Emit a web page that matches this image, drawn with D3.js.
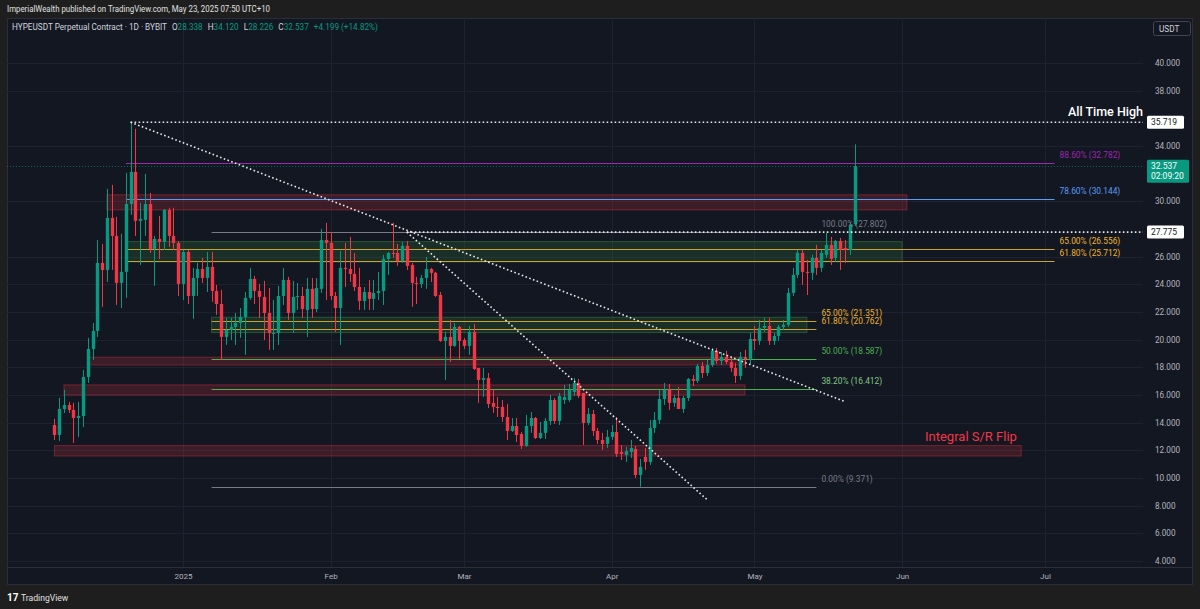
<!DOCTYPE html>
<html>
<head>
<meta charset="utf-8">
<script src="https://cdn.jsdelivr.net/npm/d3@7"></script>
<style>
  body { margin: 0; background: #1e1e1e; }
  svg { display: block; font-family: Roboto, "Noto Sans", sans-serif; }
</style>
</head>
<body>
<div class="chart"></div>
<script>
// daily candles, HYPEUSDT perp, first bar 2024-12-05
var firstDay = new Date(Date.UTC(2024, 11, 5));
var opens = [13.83,13.11,14.99,15.28,14.92,14.34,14.48,17.30,19.33,20.63,
  25.55,25.04,28.80,27.50,24.10,24.90,29.81,32.13,28.59,28.66,
  29.81,26.56,27.28,27.07,29.38,27.50,26.99,24.03,26.34,23.16,
  24.46,25.11,24.46,25.26,23.52,22.58,20.20,20.70,20.92,21.21,
  21.64,23.02,24.39,23.52,23.09,21.93,20.41,20.49,23.16,24.32,
  21.93,23.09,23.16,22.15,23.67,22.22,23.67,27.21,26.99,23.16,
  22.29,25.19,25.11,24.75,23.81,22.80,23.45,22.95,23.38,23.52,
  25.84,26.27,26.27,25.69,26.78,25.40,24.10,24.03,24.46,25.11,
  24.83,23.23,19.91,20.20,19.55,20.92,19.98,19.55,20.56,17.96,
  17.09,17.23,15.43,15.14,15.14,14.41,13.40,13.76,13.18,12.32,
  13.76,14.34,12.89,13.26,14.12,15.64,14.12,15.64,15.64,16.22,
  16.87,16.15,13.98,14.63,13.40,12.75,12.46,12.97,13.33,11.88,
  11.66,11.88,12.10,10.22,11.52,11.16,13.62,14.20,15.71,16.37,
  15.43,15.79,14.99,15.79,17.16,17.02,18.10,17.59,18.17,19.19,
  18.46,18.75,18.39,17.96,17.38,18.75,18.61,20.05,19.91,20.85,
  20.99,19.91,20.27,20.92,21.07,23.38,24.68,26.27,24.90,24.83,
  25.91,25.19,26.13,26.85,25.91,27.14,26.63,26.49,28.338];
var highs = [14.27,15.79,16.37,15.50,15.43,15.50,17.81,20.13,21.21,27.21,
  26.92,30.90,31.19,28.87,27.65,32.06,35.72,35.24,29.89,31.98,
  30.61,27.50,28.95,29.45,29.53,29.53,27.14,26.49,26.49,25.19,
  25.55,25.91,26.34,26.34,23.96,23.60,21.57,21.57,21.93,22.29,
  23.45,25.19,24.61,24.03,24.25,23.74,22.87,23.89,25.19,24.54,
  24.25,24.10,23.81,24.46,24.46,24.46,28.01,28.44,27.79,23.45,
  26.42,26.99,27.43,26.27,25.19,23.81,24.32,24.32,24.90,26.13,
  26.34,28.44,26.92,27.07,27.14,25.55,24.54,24.68,25.98,25.19,
  24.90,23.45,20.56,21.43,21.21,20.99,20.13,20.99,21.14,17.96,
  17.96,17.59,16.37,15.86,15.64,15.35,14.34,14.34,13.33,14.56,
  14.77,14.41,14.05,14.34,16.00,15.79,16.15,16.73,16.80,17.23,
  17.16,16.15,15.06,14.92,13.62,13.26,13.47,13.83,14.41,12.39,
  12.24,12.75,12.32,11.38,12.17,14.20,14.77,16.37,16.87,16.80,
  16.00,16.58,15.93,17.23,17.45,18.25,18.39,18.53,19.40,19.40,
  19.11,19.19,18.68,18.32,19.11,19.26,20.49,20.99,21.43,21.57,
  21.57,20.49,21.07,21.43,23.74,25.19,26.49,26.49,25.77,26.13,
  26.85,26.49,27.72,27.43,27.21,27.36,27.21,28.51,34.12];
var lows = [12.75,12.68,14.70,14.70,12.53,12.97,13.69,16.87,18.53,20.20,
  22.37,24.17,25.04,22.51,22.29,23.02,29.02,27.50,25.40,27.50,
  26.27,23.89,25.84,26.49,26.71,26.49,23.16,22.87,22.58,21.50,
  23.16,24.10,23.45,22.73,21.79,18.53,19.62,19.98,19.62,20.13,
  18.90,22.87,22.58,21.57,19.98,19.26,19.26,19.62,22.51,21.43,
  20.49,22.15,21.57,20.20,21.57,22.00,23.38,22.87,22.87,20.56,
  19.62,23.81,24.17,23.52,22.15,22.15,22.15,22.15,22.87,22.51,
  24.68,25.91,25.33,25.55,25.04,22.37,22.58,23.74,23.67,24.17,
  23.09,19.84,17.09,18.39,19.47,18.61,19.33,18.90,17.81,15.43,
  15.86,15.06,14.70,14.41,14.05,12.75,13.33,12.60,12.10,12.24,
  13.26,12.82,12.82,12.82,13.83,13.91,13.83,15.35,15.50,15.93,
  15.79,12.39,13.83,13.04,12.46,12.03,12.17,12.75,11.52,11.30,
  11.16,11.45,10.00,9.37,10.58,10.94,13.26,13.91,15.28,14.92,
  15.14,14.99,14.70,15.57,16.65,16.87,17.23,17.38,18.03,18.25,
  18.17,18.25,17.67,16.87,17.09,17.96,18.25,19.26,19.62,20.56,
  19.62,19.62,19.91,20.70,20.92,23.16,24.46,23.96,23.23,24.32,
  24.68,24.90,25.91,25.40,25.62,25.04,25.55,26.13,28.226];
var closes = [13.11,14.99,15.28,14.92,14.34,14.48,17.30,19.33,20.63,25.55,
  25.04,28.80,27.50,24.10,24.90,29.81,32.13,28.59,28.73,29.81,
  26.56,27.28,27.07,29.38,27.50,26.99,24.03,26.34,23.16,24.46,
  25.11,24.46,25.26,23.52,22.58,20.20,20.70,20.92,21.21,21.64,
  23.02,24.39,23.52,23.09,21.93,20.49,20.49,23.16,24.32,21.93,
  23.09,23.16,22.22,23.67,22.22,23.74,27.21,26.99,23.16,22.29,
  25.19,25.11,24.75,23.81,22.80,23.45,22.95,23.38,23.52,25.84,
  26.27,26.20,25.69,26.78,25.33,24.10,24.03,24.46,25.11,24.83,
  23.16,19.91,20.20,19.55,20.92,19.91,19.55,20.56,17.88,17.09,
  17.23,15.35,15.14,15.06,14.41,13.40,13.76,13.11,12.32,13.76,
  14.34,12.89,13.26,14.12,15.64,14.12,15.93,15.86,16.37,16.87,
  15.93,13.98,14.63,13.40,12.75,12.46,12.97,13.33,11.74,11.74,
  11.95,12.17,10.22,10.80,11.16,13.62,14.20,15.71,16.37,15.43,
  15.79,14.99,15.79,17.16,17.02,18.10,17.59,18.17,19.19,18.46,
  18.75,18.39,17.96,17.38,18.75,18.61,20.05,19.91,20.85,20.99,
  19.91,20.27,20.92,21.07,23.38,24.68,26.27,24.90,24.83,25.91,
  25.19,26.27,26.85,25.84,27.14,26.49,26.49,28.30,32.537];

var priceTicks = [4,6,8,10,12,14,16,18,20,22,24,26,30,34,38,40];
var monthTicks = ['2025-01-01','2025-02-01','2025-03-01','2025-04-01','2025-05-01','2025-06-01','2025-07-01'];
var monthLabels = ['2025','Feb','Mar','Apr','May','Jun','Jul'];

// fib 1 (ATH swing) and fib 2 (Apr low -> 27.802)
var fib1Levels = ['88.60%','78.60%','65.00%','61.80%'];
var fib1Values = [32.782, 30.144, 26.556, 25.712];
var fib1Colors = ['#9c27b0','#5b9cf6','#c9a227','#c9a227'];
var fib1Span = ['2024-12-20','2025-07-03'];
var fib2Levels = ['100.00%','65.00%','61.80%','50.00%','38.20%','0.00%'];
var fib2Values = [27.802, 21.351, 20.762, 18.587, 16.412, 9.371];
var fib2Colors = ['#787b86','#c9a227','#c9a227','#4caf50','#4caf50','#787b86'];
var fib2Span = ['2025-01-07','2025-05-14'];

// supply / demand zones: [from, to, top, bottom]
var redZones = [
  ['2024-12-16','2025-06-02',30.47,29.38],
  ['2024-12-12','2025-04-29',18.73,18.17],
  ['2024-12-07','2025-04-29',16.73,16.00],
  ['2024-12-05','2025-06-26',12.34,11.59]
];
var greenZones = [
  ['2024-12-20','2025-06-01',27.09,25.62],
  ['2025-01-07','2025-05-12',21.62,20.51]
];
// trend lines [from date, from price, to date, to price]
var trendLines = [
  ['2024-12-21',35.719,'2025-05-20',15.52],
  ['2025-02-17',27.775,'2025-04-21',8.45]
];
var athPrice = 35.719, athFrom = '2024-12-21';
var levelPrice = 27.775, levelFrom = '2025-02-17';
var lastPrice = 32.537;

var W = 1200, H = 609;
var plot = { left: 7, right: 1143, top: 18, bottom: 567 };
var up = '#089981', down = '#f23645';

var parse = function (s) { return new Date(s + 'T00:00:00Z'); };

var candles = closes.map(function (c, i) {
  return { date: d3.utcDay.offset(firstDay, i), o: opens[i], h: highs[i], l: lows[i], c: c };
});

var svg = d3.select('.chart').append('svg')
  .attr('width', W).attr('height', H);

svg.append('rect').attr('width', W).attr('height', H).attr('fill', '#1e1e1e');

svg.append('text')
  .attr('x', 7).attr('y', 12)
  .attr('fill', '#e0e0e0').attr('font-size', 8.6)
  .attr('textLength', 263).attr('lengthAdjust', 'spacingAndGlyphs')
  .text('ImperialWealth published on TradingView.com, May 23, 2025 07:50 UTC+10');

svg.append('rect')
  .attr('x', 7.5).attr('y', 18.5).attr('width', 1185).attr('height', 566)
  .attr('fill', '#131722').attr('stroke', '#2a2e39');

var x = d3.scaleUtc()
  .domain([parse('2025-01-01'), parse('2025-07-01')])
  .range([183, 1045]);
var y = d3.scaleLinear()
  .domain([4, 40])
  .range([561, 63]);

svg.append('clipPath').attr('id', 'clip')
  .append('rect')
  .attr('x', plot.left).attr('y', plot.top)
  .attr('width', plot.right - plot.left).attr('height', plot.bottom - plot.top);

var g = svg.append('g').attr('clip-path', 'url(#clip)');

// grid
g.selectAll('.hgrid').data(priceTicks).enter().append('line')
  .attr('x1', plot.left).attr('x2', plot.right)
  .attr('y1', function (d) { return Math.round(y(d)) + 0.5; })
  .attr('y2', function (d) { return Math.round(y(d)) + 0.5; })
  .attr('stroke', '#1e2230');
g.selectAll('.vgrid').data(monthTicks).enter().append('line')
  .attr('x1', function (d) { return Math.round(x(parse(d))) + 0.5; })
  .attr('x2', function (d) { return Math.round(x(parse(d))) + 0.5; })
  .attr('y1', plot.top).attr('y2', plot.bottom)
  .attr('stroke', '#1e2230');

// zones
function zone(list, fill, stroke) {
  g.selectAll(null).data(list).enter().append('rect')
    .attr('x', function (d) { return x(parse(d[0])); })
    .attr('y', function (d) { return y(d[2]); })
    .attr('width', function (d) { return x(parse(d[1])) - x(parse(d[0])); })
    .attr('height', function (d) { return y(d[3]) - y(d[2]); })
    .attr('fill', fill).attr('stroke', stroke).attr('stroke-width', 1);
}
zone(redZones, 'rgba(242,54,69,0.18)', 'rgba(242,54,69,0.38)');
zone(greenZones, 'rgba(76,175,80,0.16)', 'rgba(76,175,80,0.35)');

// fib lines
function fibLines(vals, cols, span) {
  g.selectAll(null).data(vals).enter().append('line')
    .attr('x1', x(parse(span[0]))).attr('x2', x(parse(span[1])))
    .attr('y1', function (d) { return Math.round(y(d)) + 0.5; })
    .attr('y2', function (d) { return Math.round(y(d)) + 0.5; })
    .attr('stroke', function (d, i) { return cols[i]; })
    .attr('stroke-width', 1);
}
fibLines(fib1Values, fib1Colors, fib1Span);
fibLines(fib2Values, fib2Colors, fib2Span);

// current price line
g.append('line')
  .attr('x1', plot.left).attr('x2', plot.right)
  .attr('y1', Math.round(y(lastPrice)) + 0.5).attr('y2', Math.round(y(lastPrice)) + 0.5)
  .attr('stroke', up).attr('stroke-opacity', 0.6).attr('stroke-dasharray', '1,2');

// candles
var bw = 3.4;
var cg = g.append('g');
cg.selectAll('.wick').data(candles).enter().append('line')
  .attr('x1', function (d) { return Math.round(x(d.date)) + 0.5; })
  .attr('x2', function (d) { return Math.round(x(d.date)) + 0.5; })
  .attr('y1', function (d) { return y(d.h); })
  .attr('y2', function (d) { return y(d.l); })
  .attr('stroke', function (d) { return d.c >= d.o ? up : down; });
cg.selectAll('.body').data(candles).enter().append('rect')
  .attr('x', function (d) { return Math.round(x(d.date)) + 0.5 - bw / 2; })
  .attr('y', function (d) { return y(Math.max(d.o, d.c)); })
  .attr('width', bw)
  .attr('height', function (d) { return Math.max(1, Math.abs(y(d.o) - y(d.c))); })
  .attr('fill', function (d) { return d.c >= d.o ? up : down; });

// dotted drawings
var dotted = { stroke: '#e8e8e8', 'stroke-width': 1.6, 'stroke-dasharray': '1.6,2.4' };
function applyDots(sel) {
  Object.keys(dotted).forEach(function (k) { sel.attr(k, dotted[k]); });
  return sel;
}
applyDots(g.append('line')
  .attr('x1', x(parse(athFrom))).attr('x2', plot.right)
  .attr('y1', y(athPrice)).attr('y2', y(athPrice)));
applyDots(g.append('line')
  .attr('x1', x(parse(levelFrom))).attr('x2', plot.right)
  .attr('y1', y(levelPrice)).attr('y2', y(levelPrice)));
trendLines.forEach(function (t) {
  applyDots(g.append('line')
    .attr('x1', x(parse(t[0]))).attr('y1', y(t[1]))
    .attr('x2', x(parse(t[2]))).attr('y2', y(t[3])));
});

// fib labels
function fibLabels(levels, vals, lx, cols) {
  g.selectAll(null).data(vals).enter().append('text')
    .attr('x', lx)
    .attr('y', function (d) { return y(d) - 5; })
    .attr('font-size', 8.4)
    .attr('fill', function (d, i) { return cols[i]; })
    .text(function (d, i) { return levels[i] + ' (' + d3.format('.3f')(d) + ')'; });
}
var labelCols1 = ['#9c27b0', '#5b9cf6', '#f0b429', '#f0b429'];
var labelCols2 = ['#787b86', '#f0b429', '#f0b429', '#4caf50', '#81c784', '#787b86'];
fibLabels(fib1Levels, fib1Values, x(parse(fib1Span[1])) + 5, labelCols1);
fibLabels(fib2Levels, fib2Values, x(parse(fib2Span[1])) + 5, labelCols2);

svg.append('text')
  .attr('x', plot.right).attr('y', y(athPrice) - 6)
  .attr('text-anchor', 'end')
  .attr('fill', '#ffffff').attr('font-size', 12.5).attr('font-weight', 500)
  .text('All Time High');

svg.append('text')
  .attr('x', 925).attr('y', y(12.34) - 5)
  .attr('fill', '#f23645').attr('font-size', 13)
  .text('Integral S/R Flip');

// price axis
var yAxis = d3.axisRight(y)
  .tickValues(priceTicks)
  .tickFormat(d3.format('.3f'))
  .tickSize(0)
  .tickPadding(12);
var ya = svg.append('g')
  .attr('transform', 'translate(' + plot.right + ',0)')
  .call(yAxis);
ya.select('.domain').remove();
ya.selectAll('text').attr('fill', '#b2b5be').attr('font-size', 8.2).attr('font-family', 'Roboto');

// time axis
var xAxis = d3.axisBottom(x)
  .tickValues(monthTicks.map(parse))
  .tickFormat(function (d, i) { return monthLabels[i]; })
  .tickSize(0)
  .tickPadding(6);
var xa = svg.append('g')
  .attr('transform', 'translate(0,' + plot.bottom + ')')
  .call(xAxis);
xa.select('.domain').remove();
xa.selectAll('text').attr('fill', '#b2b5be').attr('font-size', 8).attr('font-family', 'Roboto');
svg.append('line')
  .attr('x1', plot.left).attr('x2', 1193)
  .attr('y1', plot.bottom + 0.5).attr('y2', plot.bottom + 0.5)
  .attr('stroke', '#2a2e39');

// price tags
function tag(v, bg, fg, lines) {
  var h = lines.length * 10 + 3;
  var t = svg.append('g').attr('transform', 'translate(1147,' + (y(v) - 6.5) + ')');
  t.append('rect').attr('width', lines.length > 1 ? 42 : 37).attr('height', h)
    .attr('rx', 1.5).attr('fill', bg);
  lines.forEach(function (s, i) {
    t.append('text').attr('x', 4).attr('y', 9.5 + i * 10)
      .attr('font-size', 8.5).attr('fill', fg).text(s);
  });
}
tag(athPrice, '#ffffff', '#131722', [d3.format('.3f')(athPrice)]);
tag(levelPrice, '#ffffff', '#131722', [d3.format('.3f')(levelPrice)]);
tag(lastPrice, up, '#ffffff', [d3.format('.3f')(lastPrice), '02:09:20']);

// usdt badge
svg.append('rect').attr('x', 1153.5).attr('y', 21.5).attr('width', 37).attr('height', 14)
  .attr('rx', 2).attr('fill', '#131722').attr('stroke', '#434651');
svg.append('text').attr('x', 1159).attr('y', 31.5).attr('font-size', 8.2)
  .attr('fill', '#d1d4dc').text('USDT');

// legend: one text, pieces flow after each other
var last = candles[candles.length - 1];
var chg = last.c - last.o;
var legend = svg.append('text').attr('x', 12).attr('y', 30).attr('font-size', 8.2);
legend.append('tspan').attr('fill', '#d1d4dc').text('HYPEUSDT Perpetual Contract · 1D · BYBIT');
[['O', last.o], ['H', last.h], ['L', last.l], ['C', last.c]].forEach(function (p) {
  legend.append('tspan').attr('dx', 5).attr('fill', '#d1d4dc').text(p[0]);
  legend.append('tspan').attr('fill', up).text(d3.format('.3f')(p[1]));
});
legend.append('tspan').attr('dx', 5).attr('fill', up)
  .text('+' + d3.format('.3f')(chg) + ' (+' + d3.format('.2f')(chg / last.o * 100) + '%)');

// footer
var foot = svg.append('g').attr('transform', 'translate(7,592)');
foot.append('text').attr('x', 0).attr('y', 9).attr('font-size', 10).attr('font-weight', 700)
  .attr('fill', '#ffffff').text('17');
foot.append('text').attr('x', 14).attr('y', 9).attr('font-size', 8.6)
  .attr('fill', '#e0e0e0').text('TradingView');
</script>
</body>
</html>
